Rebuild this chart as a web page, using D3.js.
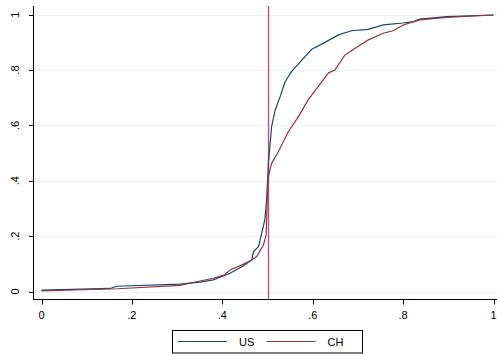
<!DOCTYPE html>
<meta charset="utf-8">
<style>
body { margin: 0; background: #fff; }
text { font-family: "Liberation Sans", Arial, sans-serif; font-size: 11px; fill: #000; }
.grid line { stroke: #eaf2f3; stroke-width: 1; }
</style>
<script src="https://d3js.org/d3.v7.min.js"></script>
<body>
<script>

var usX = [0, 0.152, 0.166, 0.306, 0.351, 0.38, 0.417, 0.446, 0.465, 0.469, 0.48, 0.487, 0.494, 0.498, 0.502, 0.509, 0.517, 0.528, 0.539, 0.553, 0.576, 0.598, 0.627, 0.657, 0.686, 0.723, 0.756, 0.80, 0.823, 0.837, 0.896, 1];
var usY = [0.005, 0.011, 0.019, 0.027, 0.034, 0.042, 0.066, 0.092, 0.114, 0.144, 0.162, 0.21, 0.258, 0.33, 0.463, 0.595, 0.656, 0.704, 0.758, 0.794, 0.836, 0.875, 0.90, 0.927, 0.942, 0.947, 0.963, 0.970, 0.975, 0.984, 0.993, 0.999];
var chX = [0, 0.168, 0.306, 0.351, 0.38, 0.405, 0.417, 0.446, 0.465, 0.476, 0.491, 0.497, 0.5, 0.502, 0.509, 0.524, 0.546, 0.568, 0.59, 0.612, 0.635, 0.649, 0.671, 0.694, 0.723, 0.756, 0.778, 0.80, 0.837, 0.896, 1];
var chY = [0.002, 0.01, 0.022, 0.038, 0.048, 0.06, 0.078, 0.098, 0.114, 0.126, 0.168, 0.204, 0.36, 0.415, 0.463, 0.505, 0.577, 0.631, 0.692, 0.74, 0.79, 0.80, 0.854, 0.879, 0.909, 0.933, 0.942, 0.963, 0.981, 0.99, 0.999];
var xTicks = [0, 0.2, 0.4, 0.6, 0.8, 1];
var yTicks = [0, 0.2, 0.4, 0.6, 0.8, 1];
var cutoff = 0.5;
var seriesNames = ["US", "CH"];
var seriesColors = ["#1a476f", "#90353b"];

var width = 497, height = 356;
var svg = d3.select("body").append("svg").attr("width", width).attr("height", height);

var x = d3.scaleLinear().domain([0, 1]).range([41.5, 493.5]);
var y = d3.scaleLinear().domain([0, 1]).range([291.5, 14.7]);
var fmt = function(d) { return d == 0 ? "0" : d == 1 ? "1" : d3.format(".1f")(d).replace(/^0/, ""); };

var plotLeft = 33, plotTop = 6, plotBottom = 299.5;

// grid
svg.append("g").attr("class", "grid")
  .selectAll("line").data(yTicks).enter().append("line")
  .attr("x1", plotLeft + 1).attr("x2", width)
  .attr("y1", function(d) { return Math.round(y(d)) + 0.5; })
  .attr("y2", function(d) { return Math.round(y(d)) + 0.5; });

// axes
svg.append("line").attr("x1", plotLeft + 0.5).attr("x2", plotLeft + 0.5)
  .attr("y1", plotTop).attr("y2", plotBottom).attr("stroke", "#000");
svg.append("line").attr("x1", plotLeft).attr("x2", width)
  .attr("y1", plotBottom).attr("y2", plotBottom).attr("stroke", "#000");

var yt = svg.append("g").selectAll("g").data(yTicks).enter().append("g");
yt.append("line").attr("x1", plotLeft - 4).attr("x2", plotLeft)
  .attr("y1", function(d) { return Math.round(y(d)) + 0.5; })
  .attr("y2", function(d) { return Math.round(y(d)) + 0.5; })
  .attr("stroke", "#000");
yt.append("text")
  .attr("transform", function(d) { return "translate(19," + y(d) + ") rotate(-90)"; })
  .attr("text-anchor", "middle")
  .text(fmt);

var xt = svg.append("g").selectAll("g").data(xTicks).enter().append("g");
xt.append("line")
  .attr("x1", function(d) { return Math.round(x(d)) + 0.5; })
  .attr("x2", function(d) { return Math.round(x(d)) + 0.5; })
  .attr("y1", plotBottom).attr("y2", plotBottom + 5)
  .attr("stroke", "#000");
xt.append("text")
  .attr("x", function(d) { return x(d); })
  .attr("y", 319)
  .attr("text-anchor", "middle")
  .text(fmt);

var line = d3.line().x(function(d) { return x(d[0]); }).y(function(d) { return y(d[1]); });
var series = [d3.zip(usX, usY), d3.zip(chX, chY)];

// vertical line at cutoff
svg.append("line")
  .attr("x1", Math.round(x(cutoff)) + 0.5).attr("x2", Math.round(x(cutoff)) + 0.5)
  .attr("y1", plotTop).attr("y2", plotBottom)
  .attr("stroke", "#de3f6d").attr("stroke-width", 1.3);

series.forEach(function(s, i) {
  svg.append("path").datum(s)
    .attr("d", line)
    .attr("fill", "none")
    .attr("stroke", seriesColors[i])
    .attr("stroke-width", 1.2);
});

// legend
var lg = svg.append("g");
lg.append("rect").attr("x", 172.5).attr("y", 330.5).attr("width", 190).attr("height", 22.5)
  .attr("fill", "#fff").attr("stroke", "#000");
var legX = [178, 266.5];
seriesNames.forEach(function(n, i) {
  lg.append("line").attr("x1", legX[i]).attr("x2", legX[i] + 49)
    .attr("y1", 341.5).attr("y2", 341.5)
    .attr("stroke", seriesColors[i]).attr("stroke-width", 1.2);
  lg.append("text").attr("x", legX[i] + 61).attr("y", 345.5).text(n);
});

</script>
</body>
